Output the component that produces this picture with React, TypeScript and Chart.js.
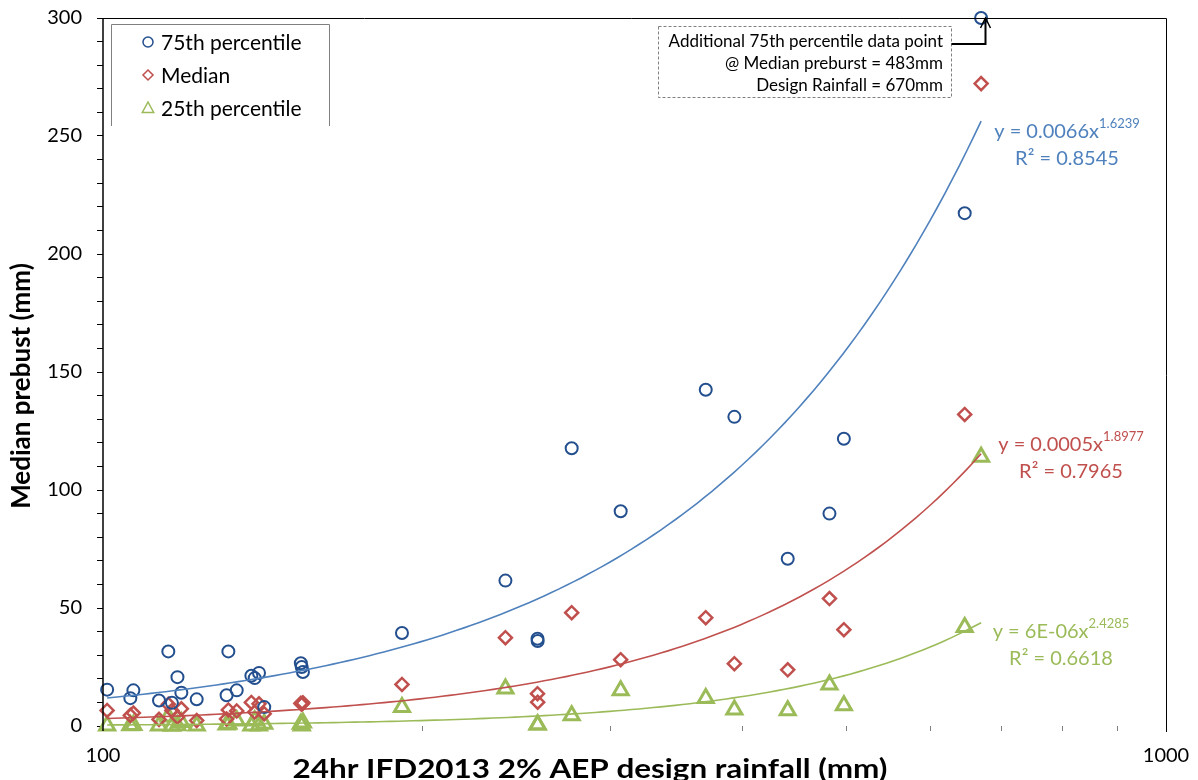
import { useEffect, useRef } from 'react';
import { Chart, registerables } from 'chart.js';

Chart.register(...registerables);

const FONT = 'Lato, "Open Sans", sans-serif';

// 24hr IFD2013 2% AEP design rainfall at each site (mm)
const designRainfall = [
  100.9, 106.1, 106.8, 112.9, 115.2, 116.1, 117.5, 118.5, 122.5, 130.7, 131.2,
  133.6, 137.9, 138.9, 140.2, 141.8, 153.5, 153.8, 154.2, 191.1, 239.1, 256.3,
  256.4, 276.0, 306.9, 369.0, 392.6, 440.7, 482.4, 497.7, 646.6, 670.0,
];
// Preburst depths (mm) at each site
const preburst75 = [
  15.4, 11.8, 15.1, 10.8, 31.6, 9.8, 20.7, 14.1, 11.3, 13.0, 31.6,
  15.1, 21.3, 20.3, 22.5, 8.0, 26.6, 25.0, 22.9, 39.4, 61.6, 37.0,
  36.0, 117.7, 91.0, 142.5, 131.0, 70.9, 90.0, 121.7, 217.3, 483.0,
];
const preburstMedian = [
  6.6, 4.5, 5.5, 2.8, 9.2, 6.6, 3.8, 7.3, 2.3, 3.0, 6.8,
  6.4, 10.0, 5.9, 9.4, 5.2, 9.6, 9.2, 9.8, 17.6, 37.4, 13.7,
  10.1, 48.0, 28.1, 45.9, 26.4, 23.8, 54.0, 40.8, 132.0, 272.2,
];
const preburst25 = [
  0.2, 0.3, 0.4, 0.2, 4.0, 0.0, 0.3, 1.6, 0.1, 0.6, 0.9,
  2.3, 0.1, 2.3, 0.2, 0.9, 0.9, 0.2, 1.4, 8.0, 15.8, 0.6,
  0.6, 4.5, 15.1, 11.8, 6.9, 6.6, 17.5, 8.7, 41.9, 114.0,
];

const seriesNames = ['75th percentile', 'Median', '25th percentile'];
const seriesValues = [preburst75, preburstMedian, preburst25];
const markerStyles = ['circle', 'rectRot', 'triangle'];
const markerColors = ['#234F8E', '#C0504D', '#9BBB59'];
const trendColors = ['#4F81BD', '#C0504D', '#9BBB59'];

// Power trendlines y = a·x^b
const trendCoefficients = [0.0066, 0.0005, 6e-6];
const trendExponents = [1.6239, 1.8977, 2.4285];
const trendR2 = [0.8545, 0.7965, 0.6618];

const xTickValues = [100, 200, 300, 400, 500, 600, 700, 800, 900, 1000];
const xLabelledTicks = [100, 1000];
const Y_MIN = 0;
const Y_MAX = 300;
const Y_STEP = 10;
const Y_LABEL_STEP = 50;

const xTitle = '24hr IFD2013 2% AEP design rainfall (mm)';
const yTitle = 'Median prebust (mm)';

// Equation label centres (px) for each trendline
const equationAnchors = [
  [1067, 132],
  [1071, 445],
  [1061, 632],
];

function formatCoefficient(v: number): string {
  if (v >= 1e-4) return String(v);
  const [m, e] = v.toExponential(0).split('e');
  const n = Math.abs(parseInt(e, 10));
  return `${m}E${e.startsWith('-') ? '-' : '+'}${String(n).padStart(2, '0')}`;
}

function trendPoints(i: number) {
  const lo = Math.min(...designRainfall);
  const hi = Math.max(...designRainfall);
  const pts: { x: number; y: number }[] = [];
  const n = 120;
  for (let k = 0; k <= n; k++) {
    const x = lo * Math.pow(hi / lo, k / n);
    pts.push({ x, y: trendCoefficients[i] * Math.pow(x, trendExponents[i]) });
  }
  return pts;
}

function drawMarker(ctx: CanvasRenderingContext2D, style: string, x: number, y: number, r: number) {
  ctx.beginPath();
  if (style === 'circle') {
    ctx.arc(x, y, r, 0, Math.PI * 2);
  } else if (style === 'rectRot') {
    ctx.moveTo(x, y - r);
    ctx.lineTo(x + r, y);
    ctx.lineTo(x, y + r);
    ctx.lineTo(x - r, y);
    ctx.closePath();
  } else {
    ctx.moveTo(x, y - r);
    ctx.lineTo(x + r * 0.95, y + r * 0.75);
    ctx.lineTo(x - r * 0.95, y + r * 0.75);
    ctx.closePath();
  }
  ctx.stroke();
}

const zeroPadding = (s: any) => {
  s.paddingTop = 0;
  s.paddingBottom = 0;
  s.paddingLeft = 0;
  s.paddingRight = 0;
};

const decorations = {
  id: 'decorations',
  afterDraw(chart: any) {
    const { ctx, chartArea: a, scales } = chart;
    const xs = scales.x;
    const ys = scales.y;
    ctx.save();

    // plot frame: left axis, top and right borders
    ctx.strokeStyle = '#000';
    ctx.lineWidth = 1;
    ctx.beginPath();
    ctx.moveTo(a.left - 6, a.top + 0.5);
    ctx.lineTo(a.right + 0.5, a.top + 0.5);
    ctx.lineTo(a.right + 0.5, a.bottom + 6);
    ctx.stroke();
    ctx.lineWidth = 1.5;
    ctx.beginPath();
    ctx.moveTo(a.left, a.top);
    ctx.lineTo(a.left, a.bottom + 5);
    ctx.stroke();

    // legend
    ctx.strokeStyle = '#808080';
    ctx.lineWidth = 1;
    ctx.beginPath();
    ctx.moveTo(111.5, 126);
    ctx.lineTo(111.5, 24.5);
    ctx.lineTo(329.5, 24.5);
    ctx.lineTo(329.5, 126);
    ctx.stroke();
    ctx.font = `21px ${FONT}`;
    ctx.textBaseline = 'middle';
    ctx.textAlign = 'left';
    seriesNames.forEach((name, i) => {
      const cy = 42 + i * 33;
      ctx.strokeStyle = markerColors[i];
      ctx.lineWidth = 1.5;
      drawMarker(ctx, markerStyles[i], 148, cy, i === 2 ? 6 : 5);
      ctx.fillStyle = '#000';
      ctx.fillText(name, 161, cy + 1);
    });

    // trendline equations
    trendCoefficients.forEach((c, i) => {
      const [cx, cy] = equationAnchors[i];
      const main = `y = ${formatCoefficient(c)}x`;
      const sup = trendExponents[i].toFixed(4);
      ctx.fillStyle = trendColors[i];
      ctx.textBaseline = 'middle';
      ctx.font = `20px ${FONT}`;
      const w1 = ctx.measureText(main).width;
      ctx.font = `13px ${FONT}`;
      const w2 = ctx.measureText(sup).width;
      const x0 = cx - (w1 + w2) / 2;
      ctx.textAlign = 'left';
      ctx.font = `20px ${FONT}`;
      ctx.fillText(main, x0, cy);
      ctx.font = `13px ${FONT}`;
      ctx.fillText(sup, x0 + w1, cy - 8);
      ctx.font = `20px ${FONT}`;
      ctx.textAlign = 'center';
      ctx.fillText(`R\u00B2 = ${trendR2[i].toFixed(4)}`, cx, cy + 27);
    });

    // note on the off-scale 75th percentile point
    const offIdx = preburst75.findIndex((v) => v > Y_MAX);
    if (offIdx >= 0) {
      const lines = [
        'Additional 75th percentile data point',
        `@ Median preburst = ${Math.round(preburst75[offIdx])}mm`,
        `Design Rainfall = ${Math.round(designRainfall[offIdx])}mm`,
      ];
      const bx = 658.5, by = 26.5, bw = 293, bh = 71;
      ctx.fillStyle = '#fff';
      ctx.fillRect(bx, by, bw, bh);
      ctx.setLineDash([3, 2]);
      ctx.strokeStyle = '#808080';
      ctx.lineWidth = 1;
      ctx.strokeRect(bx, by, bw, bh);
      ctx.setLineDash([]);
      ctx.fillStyle = '#000';
      ctx.font = `17px ${FONT}`;
      ctx.textAlign = 'right';
      ctx.textBaseline = 'middle';
      lines.forEach((t, k) => ctx.fillText(t, 943, 42 + k * 22));

      const px = Math.round(xs.getPixelForValue(designRainfall[offIdx])) + 4.5;
      const py = ys.getPixelForValue(Y_MAX);
      ctx.strokeStyle = '#000';
      ctx.lineWidth = 2;
      ctx.beginPath();
      ctx.moveTo(bx + bw, 44);
      ctx.lineTo(px, 44);
      ctx.lineTo(px, py + 1);
      ctx.stroke();
      ctx.lineWidth = 1.5;
      ctx.beginPath();
      ctx.moveTo(px - 5, py + 10);
      ctx.lineTo(px, py);
      ctx.lineTo(px + 5, py + 10);
      ctx.stroke();
    }

    // axis titles
    ctx.fillStyle = '#000';
    ctx.textAlign = 'center';
    ctx.font = `bold 26px ${FONT}`;
    ctx.textBaseline = 'alphabetic';
    const xw = ctx.measureText(xTitle).width;
    ctx.save();
    ctx.translate(590, 778);
    ctx.scale(595 / xw, 1);
    ctx.fillText(xTitle, 0, 0);
    ctx.restore();
    ctx.textBaseline = 'middle';
    ctx.translate(22, 386);
    ctx.rotate(-Math.PI / 2);
    ctx.fillText(yTitle, 0, 0);
    ctx.restore();
  },
};

export default function App() {
  const ref = useRef<HTMLCanvasElement>(null);

  useEffect(() => {
    const canvas = ref.current;
    if (!canvas) return;

    const markerSets = seriesValues.map((vals, i) => {
      const pts = designRainfall.map((x, k) => ({ x, y: Math.min(vals[k], Y_MAX) }));
      return {
        type: 'scatter' as const,
        label: seriesNames[i],
        data: pts,
        showLine: false,
        pointStyle: markerStyles[i],
        pointRadius: i === 2 ? 8.7 : i === 1 ? 6.5 : 6,
        pointBorderWidth: i === 2 ? 3 : i === 1 ? 2.5 : 2,
        pointBorderColor: markerColors[i],
        pointBackgroundColor: 'rgba(0,0,0,0)',
        clip: false as const,
        order: 1,
      };
    });

    const trendSets = trendCoefficients.map((_, i) => ({
      type: 'line' as const,
      label: `${seriesNames[i]} trend`,
      data: trendPoints(i),
      borderColor: trendColors[i],
      borderWidth: 1.6,
      pointRadius: 0,
      tension: 0,
      fill: false,
      order: 0,
    }));

    const chart = new Chart(canvas, {
      type: 'scatter',
      data: { datasets: [...trendSets, ...markerSets] as any },
      options: {
        animation: false,
        responsive: false,
        devicePixelRatio: 1,
        layout: { padding: { top: 18, right: 32, left: 0, bottom: 0 } },
        plugins: { legend: { display: false }, tooltip: { enabled: false } },
        scales: {
          x: {
            type: 'logarithmic',
            min: 100,
            max: 1000,
            border: { display: false },
            grid: {
              drawOnChartArea: false,
              drawTicks: true,
              tickLength: 5,
              color: (c: any) =>
                xLabelledTicks.includes(Math.round(c.tick?.value)) ? 'rgba(0,0,0,0)' : '#7f7f7f',
            },
            afterBuildTicks: (s: any) => {
              s.ticks = xTickValues.map((value) => ({ value }));
            },
            ticks: {
              autoSkip: false,
              maxRotation: 0,
              padding: 13,
              color: '#000',
              font: { family: FONT, size: 20 },
              callback: (v: any) => (xLabelledTicks.includes(Math.round(Number(v))) ? String(Math.round(Number(v))) : ''),
            },
            afterFit: (s: any) => {
              s.height = 54;
              zeroPadding(s);
            },
          },
          y: {
            type: 'linear',
            min: Y_MIN,
            max: Y_MAX,
            border: { display: false },
            grid: { drawOnChartArea: false, drawTicks: true, tickLength: 6, color: '#000' },
            ticks: {
              stepSize: Y_STEP,
              autoSkip: false,
              padding: 15,
              color: '#000',
              font: { family: FONT, size: 20 },
              callback: (v: any) => (Number(v) % Y_LABEL_STEP === 0 ? String(v) : ''),
            },
            afterFit: (s: any) => {
              s.width = 103;
              zeroPadding(s);
            },
          },
        },
      },
      plugins: [decorations],
    } as any);

    return () => chart.destroy();
  }, []);

  return (
    <div style={{ position: 'absolute', left: 0, top: 0, width: 1198, height: 780, background: '#fff' }}>
      <canvas ref={ref} width={1198} height={780} style={{ display: 'block', width: 1198, height: 780 }} />
    </div>
  );
}
